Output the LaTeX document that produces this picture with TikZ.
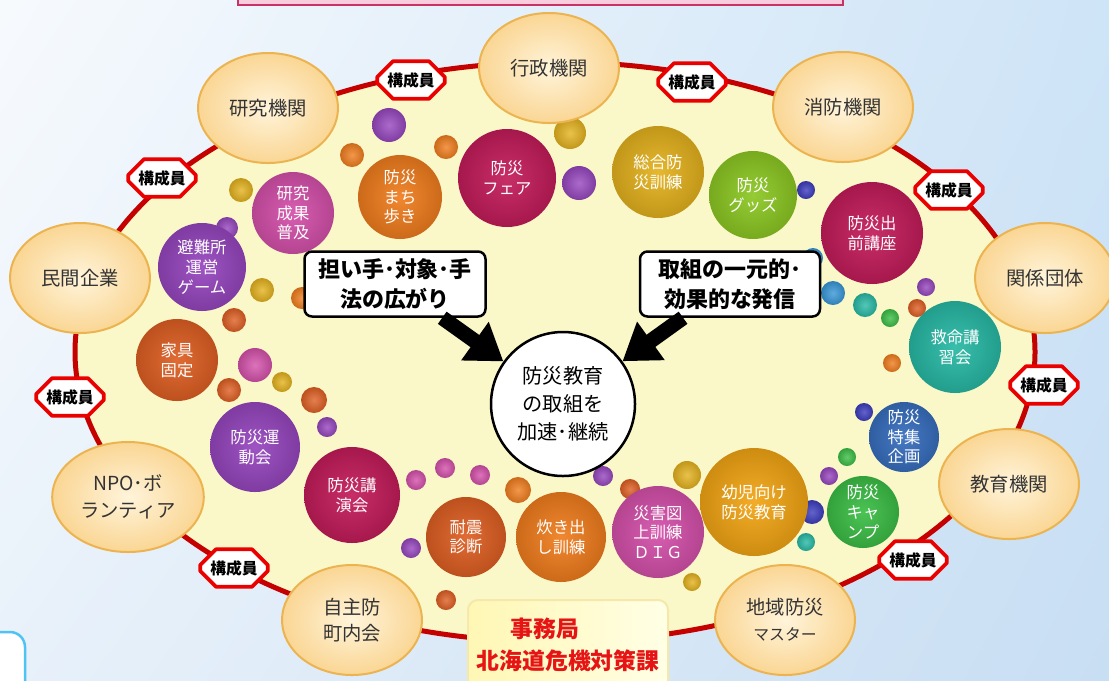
\documentclass[tikz,border=0pt]{standalone}
\usepackage{fontspec}
\setmainfont{Noto Sans CJK JP}
\usetikzlibrary{shapes.geometric,shapes.misc,arrows.meta,shadings}

\definecolor{plate}{RGB}{250,247,200}
\definecolor{ringred}{RGB}{196,0,0}
\definecolor{orgin}{RGB}{255,244,218}
\definecolor{orgout}{RGB}{250,214,148}
\definecolor{orgedge}{RGB}{236,180,80}
\definecolor{badgered}{RGB}{235,0,0}
\definecolor{topfill}{RGB}{250,205,222}
\definecolor{topedge}{RGB}{200,50,100}
\definecolor{offfill}{RGB}{255,247,180}
\definecolor{offedge}{RGB}{245,232,170}
\definecolor{officered}{RGB}{230,20,20}
\definecolor{cornerblue}{RGB}{80,195,245}
\definecolor{skyA}{RGB}{247,250,253}
\definecolor{skyB}{RGB}{206,228,247}
\definecolor{skyC}{RGB}{232,241,250}
\definecolor{skyD}{RGB}{200,222,243}
\definecolor{cpurple}{RGB}{150,70,190}
\definecolor{cpink}{RGB}{212,80,170}
\definecolor{ccrimson}{RGB}{195,28,90}
\definecolor{corange}{RGB}{240,125,30}
\definecolor{cred}{RGB}{222,95,35}
\definecolor{cgold}{RGB}{228,178,30}
\definecolor{camber}{RGB}{242,165,20}
\definecolor{cygreen}{RGB}{140,200,35}
\definecolor{cteal}{RGB}{40,185,165}
\definecolor{cblue}{RGB}{55,110,190}
\definecolor{cgreen}{RGB}{60,190,70}
\definecolor{cnavy}{RGB}{60,60,190}
\definecolor{clblue}{RGB}{55,150,215}

\def\orb[#1](#2)(#3){\shade[inner color=#1!80!white, outer color=#1!85!black] (#2) circle (#3);}

\tikzset{
  member/.style={ellipse, minimum width=28mm, minimum height=22mm, draw=orgedge, line width=0.4mm,
    inner color=orgin, outer color=orgout, text=black!80, align=center,
    font=\fontsize{11}{15}\selectfont},
  bub/.style 2 args={circle, minimum size=#1*0.4mm, inner sep=0pt, inner color=#2!92!white,
    outer color=#2!85!black, text=white, align=center, font=\fontsize{9.3}{11.2}\selectfont},
  badge/.style={chamfered rectangle, chamfered rectangle xsep=1.6mm, chamfered rectangle ysep=1.6mm,
    draw=badgered, line width=0.75mm, line join=round, fill=white, minimum width=13.5mm,
    minimum height=7.5mm, inner sep=0pt, font=\fontsize{9}{9}\selectfont\bfseries},
  callout/.style={draw=black, line width=0.5mm, rounded corners=1.5mm, fill=white, align=center,
    minimum height=13mm, font=\fontsize{12.5}{17}\selectfont\bfseries},
  bigarrow/.style={line width=3mm, -{Triangle[width=9mm,length=7mm]}},
}

\begin{document}
\begin{tikzpicture}[x=0.2mm, y=-0.2mm]
  \useasboundingbox (0,0) rectangle (1109,680);
  \clip (0,0) rectangle (1109,680);

  % background
  \shade[upper left=skyA, upper right=skyB, lower left=skyC, lower right=skyD] (0,0) rectangle (1109,680);

  % ring
  \draw[line width=1mm, draw=ringred, fill=plate] (555,352) ellipse [x radius=480, y radius=290];

  % small balls
  \orb[cpurple](389,125)(17);
  \orb[corange](352,155)(12);
  \orb[corange](446,147)(12);
  \orb[cgold](241,190)(12);
  \orb[cpurple](227,228)(11);
  \orb[cgold](262,290)(12);
  \orb[cred](234,320)(12);
  \orb[corange](302,298)(11);
  \orb[cgold](570,133)(16);
  \orb[cpurple](579,183)(17);
  \orb[cnavy](806,190)(9);
  \orb[clblue](813,258)(10);
  \orb[clblue](833,293)(12);
  \orb[cteal](865,305)(12);
  \orb[cgreen](890,318)(9);
  \orb[cred](917,308)(9);
  \orb[cpurple](926,287)(9);
  \orb[corange](892,363)(9);
  \orb[cnavy](864,412)(9);
  \orb[cgreen](847,457)(9);
  \orb[cpurple](829,476)(9);
  \orb[cnavy](812,512)(12);
  \orb[cteal](806,542)(9);
  \orb[cgold](687,475)(14);
  \orb[cred](630,489)(10);
  \orb[cpurple](603,476)(10);
  \orb[cgold](692,582)(9);
  \orb[cpink](255,365)(17);
  \orb[cred](229,390)(12);
  \orb[cgold](282,382)(10);
  \orb[cred](314,400)(13);
  \orb[cpurple](327,427)(10);
  \orb[cpink](416,480)(10);
  \orb[cpink](445,468)(10);
  \orb[cpink](480,475)(10);
  \orb[corange](518,490)(13);
  \orb[cpurple](411,548)(10);
  \orb[cred](446,600)(10);

  % activity bubbles
  \node[bub={41}{cpink}] (seika) at (293,213) {研究\\成果\\普及};
  \node[bub={44}{cpurple}] (hinanjo) at (202,267) {避難所\\運営\\ゲーム};
  \node[bub={42}{corange}] (machi) at (400,197) {防災\\まち\\歩き};
  \node[bub={49}{ccrimson}] (fair) at (507,178) {防災\\フェア};
  \node[bub={46}{cgold}] (sogo) at (658,172) {総合防\\災訓練};
  \node[bub={44}{cygreen}] (goods) at (753,195) {防災\\グッズ};
  \node[bub={51}{ccrimson}] (demae) at (872,233) {防災出\\前講座};
  \node[bub={46}{cteal}] (kyumei) at (955,347) {救命講\\習会};
  \node[bub={35}{cblue}] (tokushu) at (904,437) {防災\\特集\\企画};
  \node[bub={36}{cgreen}] (camp) at (863,512) {防災\\キャ\\ンプ};
  \node[bub={54}{camber}] (yoji) at (754,502) {幼児向け\\防災教育};
  \node[bub={46}{cpink}] (dig) at (658,532) {災害図\\上訓練\\ＤＩＧ};
  \node[bub={45}{corange}] (takidashi) at (561,537) {炊き出\\し訓練};
  \node[bub={40}{cred}] (taishin) at (466,537) {耐震\\診断};
  \node[bub={48}{ccrimson}] (koen) at (352,495) {防災講\\演会};
  \node[bub={45}{cpurple}] (undokai) at (255,447) {防災運\\動会};
  \node[bub={41}{cred}] (kagu) at (177,360) {家具\\固定};

  % centre and callouts
  \node[circle, draw=black, line width=0.5mm, fill=white, minimum size=28.8mm, align=center,
    font=\fontsize{11.5}{16}\selectfont] (core) at (563,404) {防災教育\\の取組を\\加速･継続};
  \node[callout, minimum width=36.2mm] (callL) at (395,284) {担い手･対象･手\\法の広がり};
  \node[callout, minimum width=36mm] (callR) at (730,284) {取組の一元的･\\効果的な発信};
  \draw[bigarrow] (callL) -- (core);
  \draw[bigarrow] (callR) -- (core);

  % members on the ring
  \node[member] (gyosei) at (549,68) {行政機関};
  \node[member] (shobo) at (843,107) {消防機関};
  \node[member] (kenkyu) at (268,108) {研究機関};
  \node[member] (minkan) at (80,278) {民間企業};
  \node[member] (kankei) at (1045,278) {関係団体};
  \node[member] (npo) at (128,497) {NPO･ボ\\ランティア};
  \node[member] (jishu) at (352,620) {自主防\\町内会};
  \node[member] (chiiki) at (785,620) {地域防災\\{\fontsize{9}{12}\selectfont マスター}};
  \node[member] (kyoiku) at (1009,484) {教育機関};

  \node[badge] (b1) at (411,80) {構成員};
  \node[badge] (b2) at (692,82) {構成員};
  \node[badge] (b3) at (162,178) {構成員};
  \node[badge] (b4) at (949,190) {構成員};
  \node[badge] (b5) at (70,397) {構成員};
  \node[badge] (b6) at (1044,385) {構成員};
  \node[badge] (b7) at (234,568) {構成員};
  \node[badge] (b8) at (913,560) {構成員};

  % secretariat
  \node[draw=offedge, line width=0.4mm, rounded corners=2mm, left color=offfill, right color=white!90!yellow,
    minimum width=40mm, minimum height=18mm, align=center, text=officered,
    font=\fontsize{13}{18}\selectfont\bfseries] (office) at (568,645) {事務局\hspace*{2em}\\北海道危機対策課};

  % edges of neighbouring boxes
  \draw[draw=topedge, fill=topfill, line width=0.5mm] (238,-20) rectangle (843,5);
  \draw[draw=cornerblue, line width=0.5mm, fill=white, rounded corners=3mm] (-30,632) rectangle (25,720);
\end{tikzpicture}
\end{document}
